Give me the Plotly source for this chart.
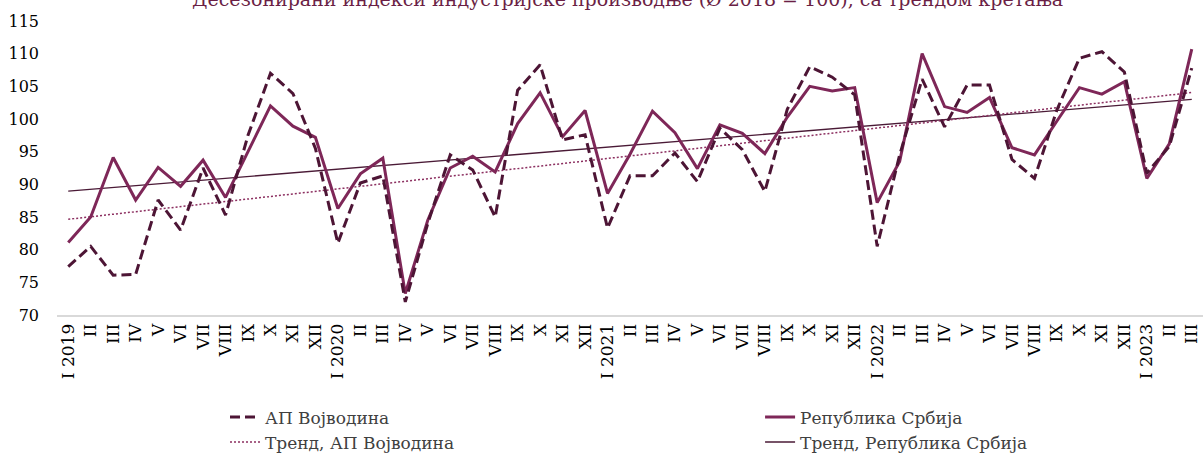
import numpy as np
import plotly.graph_objects as go

months = ["I", "II", "III", "IV", "V", "VI", "VII", "VIII", "IX", "X", "XI", "XII"]
years = ["2019", "2020", "2021", "2022", "2023"]
n_last = 3

tick_labels = []
for y in years:
    ms = months if y != "2023" else months[:n_last]
    for m in ms:
        tick_labels.append(f"I {y}" if m == "I" else m)
cat_keys = list(range(len(tick_labels)))

vojvodina = [77.4, 80.5, 76.1, 76.2, 87.6, 83.0, 92.5, 85.3, 97.5, 107.0, 103.9, 95.5,
             81.0, 90.2, 91.3, 72.0, 84.0, 94.5, 92.2, 85.0, 104.4, 108.3, 96.8, 97.6,
             83.3, 91.3, 91.3, 94.8, 90.4, 98.6, 95.3, 88.9, 101.5, 108.0, 106.4, 103.7,
             80.5, 94.5, 106.1, 98.8, 105.2, 105.2, 93.8, 90.9, 101.4, 109.3, 110.3, 107.2,
             91.7, 95.8, 107.8]
srbija = [81.1, 85.0, 94.1, 87.6, 92.6, 89.7, 93.7, 88.0, 95.0, 102.0, 98.9, 97.2,
          86.3, 91.6, 94.0, 73.3, 84.5, 92.5, 94.3, 91.9, 99.3, 104.0, 97.3, 101.3,
          88.6, 94.6, 101.2, 97.9, 92.4, 99.1, 97.8, 94.7, 100.3, 105.0, 104.3, 104.8,
          87.2, 93.5, 110.0, 101.9, 101.0, 103.3, 95.6, 94.5, 99.7, 104.8, 103.8, 105.7,
          90.9, 96.2, 110.7]

title_text = "Десезонирани индекси индустријске производње (Ø 2018 = 100), са трендом кретања"

idx = np.arange(len(srbija))
tv = np.polyval(np.polyfit(idx, vojvodina, 1), idx)
ts = np.polyval(np.polyfit(idx, srbija, 1), idx)

C_VOJ = "#4d1535"
C_SRB = "#7e2758"
C_TV = "#8c2f60"
C_TS = "#4a1a36"
FONT = "DejaVu Serif"

fig = go.Figure()
fig.add_trace(go.Scatter(x=cat_keys, y=ts, mode="lines", name="Тренд, Република Србија",
                         line=dict(color=C_TS, width=1.3), legend="legend2"))
fig.add_trace(go.Scatter(x=cat_keys, y=tv, mode="lines", name="Тренд, АП Војводина",
                         line=dict(color=C_TV, width=1.5, dash="2px,2px"), legend="legend"))
fig.add_trace(go.Scatter(x=cat_keys, y=srbija, mode="lines", name="Република Србија",
                         line=dict(color=C_SRB, width=3), legend="legend2"))
fig.add_trace(go.Scatter(x=cat_keys, y=vojvodina, mode="lines", name="АП Војводина",
                         line=dict(color=C_VOJ, width=3, dash="10px,5px"), legend="legend"))

leg_common = dict(yref="container", y=0.13, xanchor="left", yanchor="top", orientation="v",
                  traceorder="reversed", font=dict(family=FONT, size=17, color="#404040"),
                  tracegroupgap=0, bgcolor="rgba(0,0,0,0)", itemwidth=30)

fig.update_layout(
    width=1204, height=459,
    margin=dict(l=57, r=1, t=21, b=144, autoexpand=False),
    plot_bgcolor="white", paper_bgcolor="white",
    font=dict(family=FONT, size=16, color="#000000"),
    xaxis=dict(range=[-0.5, 50.5], tickmode="array", tickvals=cat_keys, ticktext=tick_labels,
               tickangle=-90, showgrid=False, zeroline=False, showline=True,
               linecolor="#d9d9d9", linewidth=2, ticks="", automargin=False,
               tickfont=dict(family=FONT, size=17)),
    yaxis=dict(range=[70, 115], tickmode="array", tickvals=list(range(70, 116, 5)),
               showgrid=False, zeroline=False, showline=False, ticks="", automargin=False,
               ticklabelstandoff=17, tickfont=dict(family=FONT, size=16)),
    legend=dict(x=0.1466, **leg_common),
    legend2=dict(x=0.6135, **leg_common),
    showlegend=True,
    annotations=[dict(text=title_text, xref="paper", yref="paper", x=0.498, y=1,
                      xanchor="center", yanchor="bottom", yshift=9, showarrow=False,
                      font=dict(family=FONT, size=19, color="#6b1f45"))],
)

fig.write_html("out.html", config={"displayModeBar": False},
               post_script="document.body.style.margin='0';document.body.style.padding='0';")
